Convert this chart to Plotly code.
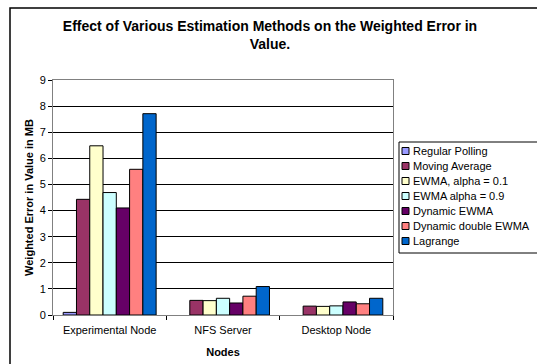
import plotly.graph_objects as go

nodes = ["Experimental Node", "NFS Server", "Desktop Node"]
methods = [
    "Regular Polling",
    "Moving Average",
    "EWMA, alpha = 0.1",
    "EWMA alpha = 0.9",
    "Dynamic EWMA",
    "Dynamic double EWMA",
    "Lagrange",
]
regular_polling = [0.1, None, None]
moving_average = [4.43, 0.56, 0.34]
ewma_01 = [6.48, 0.55, 0.33]
ewma_09 = [4.69, 0.64, 0.35]
dynamic_ewma = [4.1, 0.46, 0.5]
dynamic_double_ewma = [5.58, 0.72, 0.43]
lagrange = [7.71, 1.09, 0.64]

series = [regular_polling, moving_average, ewma_01, ewma_09,
          dynamic_ewma, dynamic_double_ewma, lagrange]
colors = ["#9999FF", "#993366", "#FFFFCC", "#CCFFFF", "#660066", "#FF8080", "#0066CC"]

FONT = "Liberation Sans, Arial, sans-serif"
W, H = 537, 364
L, T, B = 53, 80, 49
PLOT_RIGHT = 393          # right edge of the bar plot area in pixels
pw = W - L                # paper width (right margin is 0)
ph = H - T - B

def px_x(p):
    return (p - L) / pw

def px_y(p):
    return (H - B - p) / ph

fig = go.Figure()
for name, vals, col in zip(methods, series, colors):
    fig.add_trace(go.Bar(
        x=nodes, y=vals, name=name, showlegend=False,
        marker=dict(color=col, line=dict(color="black", width=1)),
    ))

# Legend box drawn by hand: small swatches followed by labels
shapes = [
    dict(type="rect", xref="paper", yref="paper",
         x0=px_x(399), x1=px_x(W + 5), y0=px_y(142), y1=px_y(253),
         line=dict(color="black", width=1), fillcolor="white"),
    # outer chart frame
    dict(type="rect", xref="paper", yref="paper",
         x0=px_x(10), x1=px_x(W + 20), y0=px_y(8), y1=px_y(H + 20),
         line=dict(color="black", width=1.5), fillcolor="rgba(0,0,0,0)",
         layer="below"),
]
annotations = []
row0, step = 151, 15
for i, (name, col) in enumerate(zip(methods, colors)):
    cy = row0 + i * step
    shapes.append(dict(
        type="rect", xref="paper", yref="paper",
        x0=px_x(402), x1=px_x(409), y0=px_y(cy + 3.5), y1=px_y(cy - 3.5),
        line=dict(color="black", width=1), fillcolor=col,
    ))
    annotations.append(dict(
        text=name, xref="paper", yref="paper",
        x=px_x(411), y=px_y(cy), xanchor="left", yanchor="middle",
        showarrow=False, font=dict(size=11, family=FONT, color="black"),
    ))

fig.update_layout(
    width=W, height=H,
    margin=dict(l=L, r=0, t=T, b=B, autoexpand=False),
    paper_bgcolor="white", plot_bgcolor="white",
    barmode="group", bargap=0.18, bargroupgap=0,
    font=dict(family=FONT, color="black", size=11),
    title=dict(
        text="<b>Effect of Various Estimation Methods on the Weighted Error in<br>Value.</b>",
        x=270 / W, xref="container", xanchor="center",
        y=1 - 31 / H, yref="container", yanchor="top",
        font=dict(size=14, family=FONT),
    ),
    showlegend=False,
    xaxis=dict(
        domain=[0, (PLOT_RIGHT - L) / pw],
        title=dict(text="<b>Nodes</b>", font=dict(size=11), standoff=13),
        showline=True, linecolor="#808080", linewidth=1, mirror=True,
        ticks="outside", tickson="boundaries", ticklen=4, tickcolor="black",
        tickfont=dict(size=11), tickangle=0, showgrid=False,
        ticklabelstandoff=5,
    ),
    yaxis=dict(
        title=dict(text="<b>Weighted Error in Value in MB</b>", font=dict(size=11), standoff=3),
        range=[0, 9], dtick=1,
        showline=True, linecolor="#808080", linewidth=1, mirror=True,
        ticks="outside", ticklen=4, tickcolor="black",
        showgrid=True, gridcolor="black", gridwidth=1,
        tickfont=dict(size=11), zeroline=False,
    ),
    shapes=shapes,
    annotations=annotations,
)

fig.write_html("out.html")
